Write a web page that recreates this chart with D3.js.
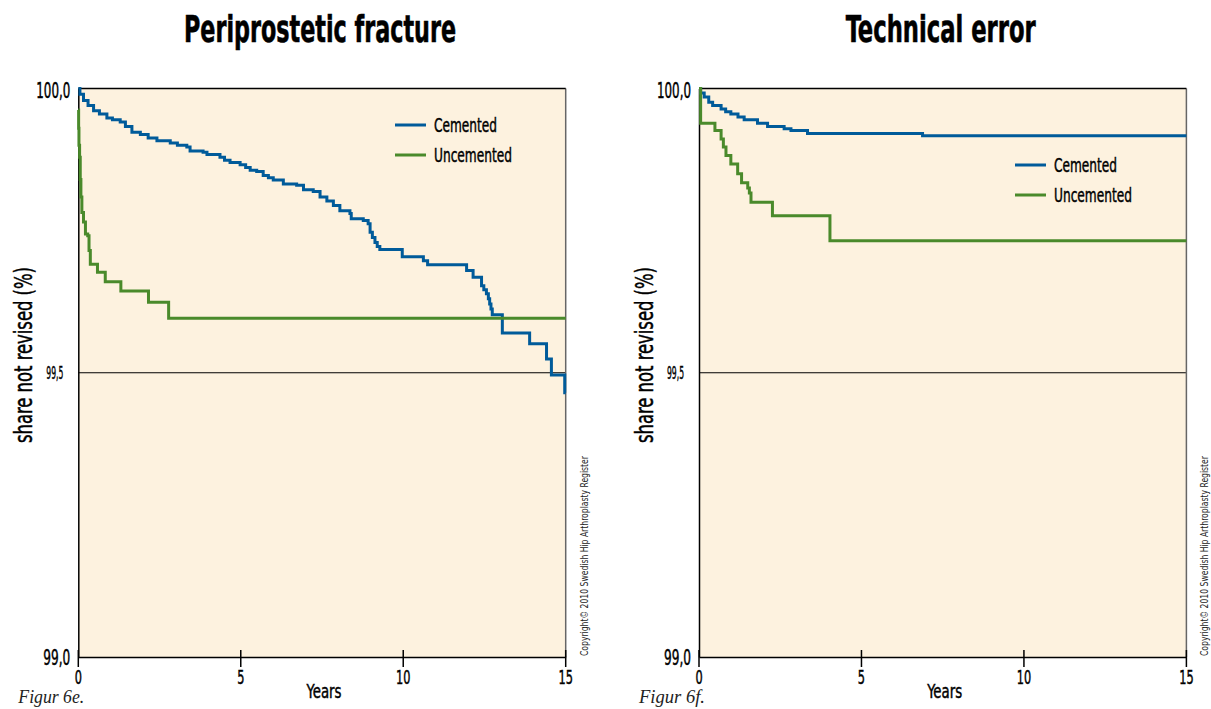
<!DOCTYPE html>
<html>
<head>
<meta charset="utf-8">
<script src="https://cdn.jsdelivr.net/npm/d3@7"></script>
<style>
  html, body { margin: 0; padding: 0; background: #fff; }
  svg { display: block; }
  .cond { font-family: "Liberation Sans Narrow", "Arial Narrow", "DejaVu Sans Condensed", sans-serif; }
  .med { stroke: #000; stroke-width: 0.45px; paint-order: fill; }
</style>
</head>
<body>
<svg id="chart" width="1211" height="709"></svg>
<script>
// Kaplan-Meier style survival: [years, % not revised]
const fractureCemented = [
  [0,100.000],[0.05,99.990],[0.16,99.979],[0.30,99.970],[0.47,99.961],[0.65,99.955],
  [0.88,99.948],[1.05,99.945],[1.29,99.941],[1.45,99.933],[1.65,99.923],[1.91,99.919],
  [2.15,99.913],[2.42,99.908],[2.83,99.904],[3.05,99.900],[3.34,99.897],[3.44,99.890],
  [3.84,99.888],[3.96,99.884],[4.36,99.879],[4.50,99.874],[4.67,99.870],[4.98,99.866],
  [5.15,99.861],[5.29,99.856],[5.49,99.854],[5.69,99.847],[5.85,99.843],[6.00,99.839],
  [6.31,99.832],[6.72,99.830],[6.93,99.822],[7.23,99.819],[7.44,99.809],[7.65,99.802],
  [7.85,99.794],[8.05,99.785],[8.36,99.780],[8.40,99.771],[8.77,99.768],[8.92,99.762],
  [8.98,99.747],[9.05,99.738],[9.13,99.729],[9.20,99.722],[9.28,99.717],[9.97,99.704],
  [10.62,99.697],[10.75,99.690],[11.95,99.680],[12.15,99.668],[12.41,99.653],[12.48,99.646],
  [12.56,99.639],[12.62,99.630],[12.66,99.621],[12.70,99.612],[12.74,99.602],[13.05,99.570],
  [13.89,99.551],[14.41,99.524],[14.56,99.496],[14.97,99.465],[15,99.465]
];
const fractureUncemented = [
  [0,99.962],[0.01,99.930],[0.02,99.900],[0.04,99.879],[0.06,99.840],[0.08,99.809],
  [0.11,99.782],[0.16,99.765],[0.22,99.744],[0.29,99.741],[0.33,99.715],[0.37,99.691],
  [0.59,99.677],[0.83,99.660],[1.31,99.644],[2.16,99.624],[2.78,99.596],[15,99.596]
];
const errorCemented = [
  [0,100.000],[0.05,99.992],[0.16,99.985],[0.30,99.976],[0.42,99.970],[0.68,99.964],
  [0.82,99.959],[0.98,99.955],[1.20,99.950],[1.39,99.945],[1.80,99.939],[2.11,99.933],
  [2.62,99.929],[2.83,99.926],[3.34,99.921],[6.88,99.917],[15,99.917]
];
const errorUncemented = [
  [0,100.000],[0.05,99.939],[0.49,99.926],[0.68,99.911],[0.75,99.897],[0.83,99.882],
  [0.98,99.867],[1.19,99.850],[1.31,99.834],[1.50,99.825],[1.55,99.816],[1.60,99.800],
  [2.26,99.776],[4.03,99.732],[15,99.732]
];

const xTicks = [0, 5, 10, 15];
const yTicks = [99.0, 99.5, 100.0];
const yTickLabels = ["99,0", "99,5", "100,0"];
const seriesNames = ["Cemented", "Uncemented"];
const seriesColors = ["#005b9a", "#4a8a2b"];

const panels = [
  { title: "Periprostetic fracture", titleW: 272, fig: "Figur 6e.",
    series: [fractureCemented, fractureUncemented],
    left: 78.3, legend: { x: 395, y: 125 } },
  { title: "Technical error", titleW: 190, fig: "Figur 6f.",
    series: [errorCemented, errorUncemented],
    left: 699, legend: { x: 1015, y: 165 } }
];

const svg = d3.select("#chart");
const plotW = 487.4, plotTop = 88.5, plotBottom = 657;

panels.forEach(p => {
  const x = d3.scaleLinear().domain([0, 15]).range([p.left, p.left + plotW]);
  const y = d3.scaleLinear().domain([99, 100]).range([plotBottom, plotTop]);
  const g = svg.append("g");
  const x0 = x(0), x1 = x(15), y0 = y(99), y1 = y(100);

  // plot background
  g.append("rect").attr("x", x0).attr("y", y1).attr("width", x1 - x0).attr("height", y0 - y1)
    .attr("fill", "#fdf2df");

  // gridline at 99,5
  g.append("line").attr("x1", x0).attr("x2", x1).attr("y1", y(99.5)).attr("y2", y(99.5))
    .attr("stroke", "#000").attr("stroke-width", 1);

  // frame: dark top/left/bottom, grey right edge
  g.append("line").attr("x1", x1).attr("x2", x1).attr("y1", y1).attr("y2", y0)
    .attr("stroke", "#666").attr("stroke-width", 1.5);
  g.append("line").attr("x1", x0).attr("x2", x1).attr("y1", y1).attr("y2", y1)
    .attr("stroke", "#000").attr("stroke-width", 1.5);

  // x axis with ticks crossing the baseline
  const xa = g.append("g").attr("transform", `translate(0,${y0})`)
    .call(d3.axisBottom(x).tickValues(xTicks).tickSize(0).tickFormat(""));
  xa.select(".domain").attr("stroke", "#000").attr("stroke-width", 1.5);
  xTicks.forEach(t => {
    g.append("line").attr("x1", x(t)).attr("x2", x(t)).attr("y1", y0 - 7).attr("y2", y0 + 10)
      .attr("stroke", "#000").attr("stroke-width", 1.5);
    g.append("text").attr("class", "cond med").attr("x", x(t)).attr("y", 684)
      .attr("text-anchor", "middle").attr("font-size", 20).attr("fill", "#000")
      .attr("textLength", String(t).length * 7.2).attr("lengthAdjust", "spacingAndGlyphs")
      .text(t);
  });

  // y axis
  const ya = g.append("g").attr("transform", `translate(${x0},0)`)
    .call(d3.axisLeft(y).tickValues(yTicks).tickSize(0).tickFormat(""));
  ya.select(".domain").attr("stroke", "#000").attr("stroke-width", 1.5);
  yTicks.forEach((v, i) => {
    const mid = v === 99.5;
    g.append("text").attr("class", "cond med")
      .attr("x", x0 - (mid ? 15 : 8)).attr("y", y(v) + (mid ? 6 : (v === 99 ? 8 : 9)))
      .attr("text-anchor", "end").attr("font-size", mid ? 17 : 21).attr("fill", "#000")
      .attr("textLength", mid ? 17 : (yTickLabels[i].length === 5 ? 34 : 27))
      .attr("lengthAdjust", "spacingAndGlyphs")
      .text(yTickLabels[i]);
  });

  // survival curves
  const line = d3.line().x(d => x(d[0])).y(d => y(d[1])).curve(d3.curveStepAfter);
  p.series.forEach((s, i) => {
    g.append("path").datum(s).attr("d", line).attr("fill", "none")
      .attr("stroke", seriesColors[i]).attr("stroke-width", 3)
      .attr("stroke-linejoin", "miter");
  });

  // legend
  seriesNames.forEach((name, i) => {
    const ly = p.legend.y + i * 30;
    g.append("line").attr("x1", p.legend.x).attr("x2", p.legend.x + 31)
      .attr("y1", ly).attr("y2", ly).attr("stroke", seriesColors[i]).attr("stroke-width", 3);
    g.append("text").attr("class", "cond med").attr("x", p.legend.x + 39).attr("y", ly + 7)
      .attr("font-size", 20).attr("fill", "#000")
      .attr("textLength", i === 0 ? 63 : 78).attr("lengthAdjust", "spacingAndGlyphs")
      .text(name);
  });

  // title
  g.append("text").attr("class", "cond").attr("x", (x0 + x1) / 2 - 2).attr("y", 42)
    .attr("text-anchor", "middle").attr("font-size", 38).attr("font-weight", "bold")
    .attr("fill", "#000").attr("stroke", "#000").attr("stroke-width", 0.6)
    .attr("textLength", p.titleW).attr("lengthAdjust", "spacingAndGlyphs")
    .text(p.title);

  // axis titles
  g.append("text").attr("class", "cond med")
    .attr("transform", `translate(${x0 - 46},355) rotate(-90)`)
    .attr("text-anchor", "middle").attr("font-size", 25).attr("fill", "#000")
    .attr("textLength", 176).attr("lengthAdjust", "spacingAndGlyphs")
    .text("share not revised (%)");
  g.append("text").attr("class", "cond med").attr("x", (x0 + x1) / 2 + 2).attr("y", 698)
    .attr("text-anchor", "middle").attr("font-size", 19).attr("fill", "#000")
    .attr("textLength", 35).attr("lengthAdjust", "spacingAndGlyphs")
    .text("Years");

  // figure number
  g.append("text").attr("x", x0 - 60).attr("y", 703)
    .attr("font-family", "Liberation Serif, serif").attr("font-style", "italic")
    .attr("font-size", 19).attr("fill", "#222")
    .attr("textLength", 66).attr("lengthAdjust", "spacingAndGlyphs")
    .text(p.fig);

  // copyright
  g.append("text").attr("class", "cond")
    .attr("transform", `translate(${x1 + 22},556) rotate(-90)`)
    .attr("text-anchor", "middle").attr("font-size", 11).attr("fill", "#222")
    .attr("textLength", 200).attr("lengthAdjust", "spacingAndGlyphs")
    .text("Copyright© 2010 Swedish Hip Arthroplasty Register");
});
</script>
</body>
</html>
